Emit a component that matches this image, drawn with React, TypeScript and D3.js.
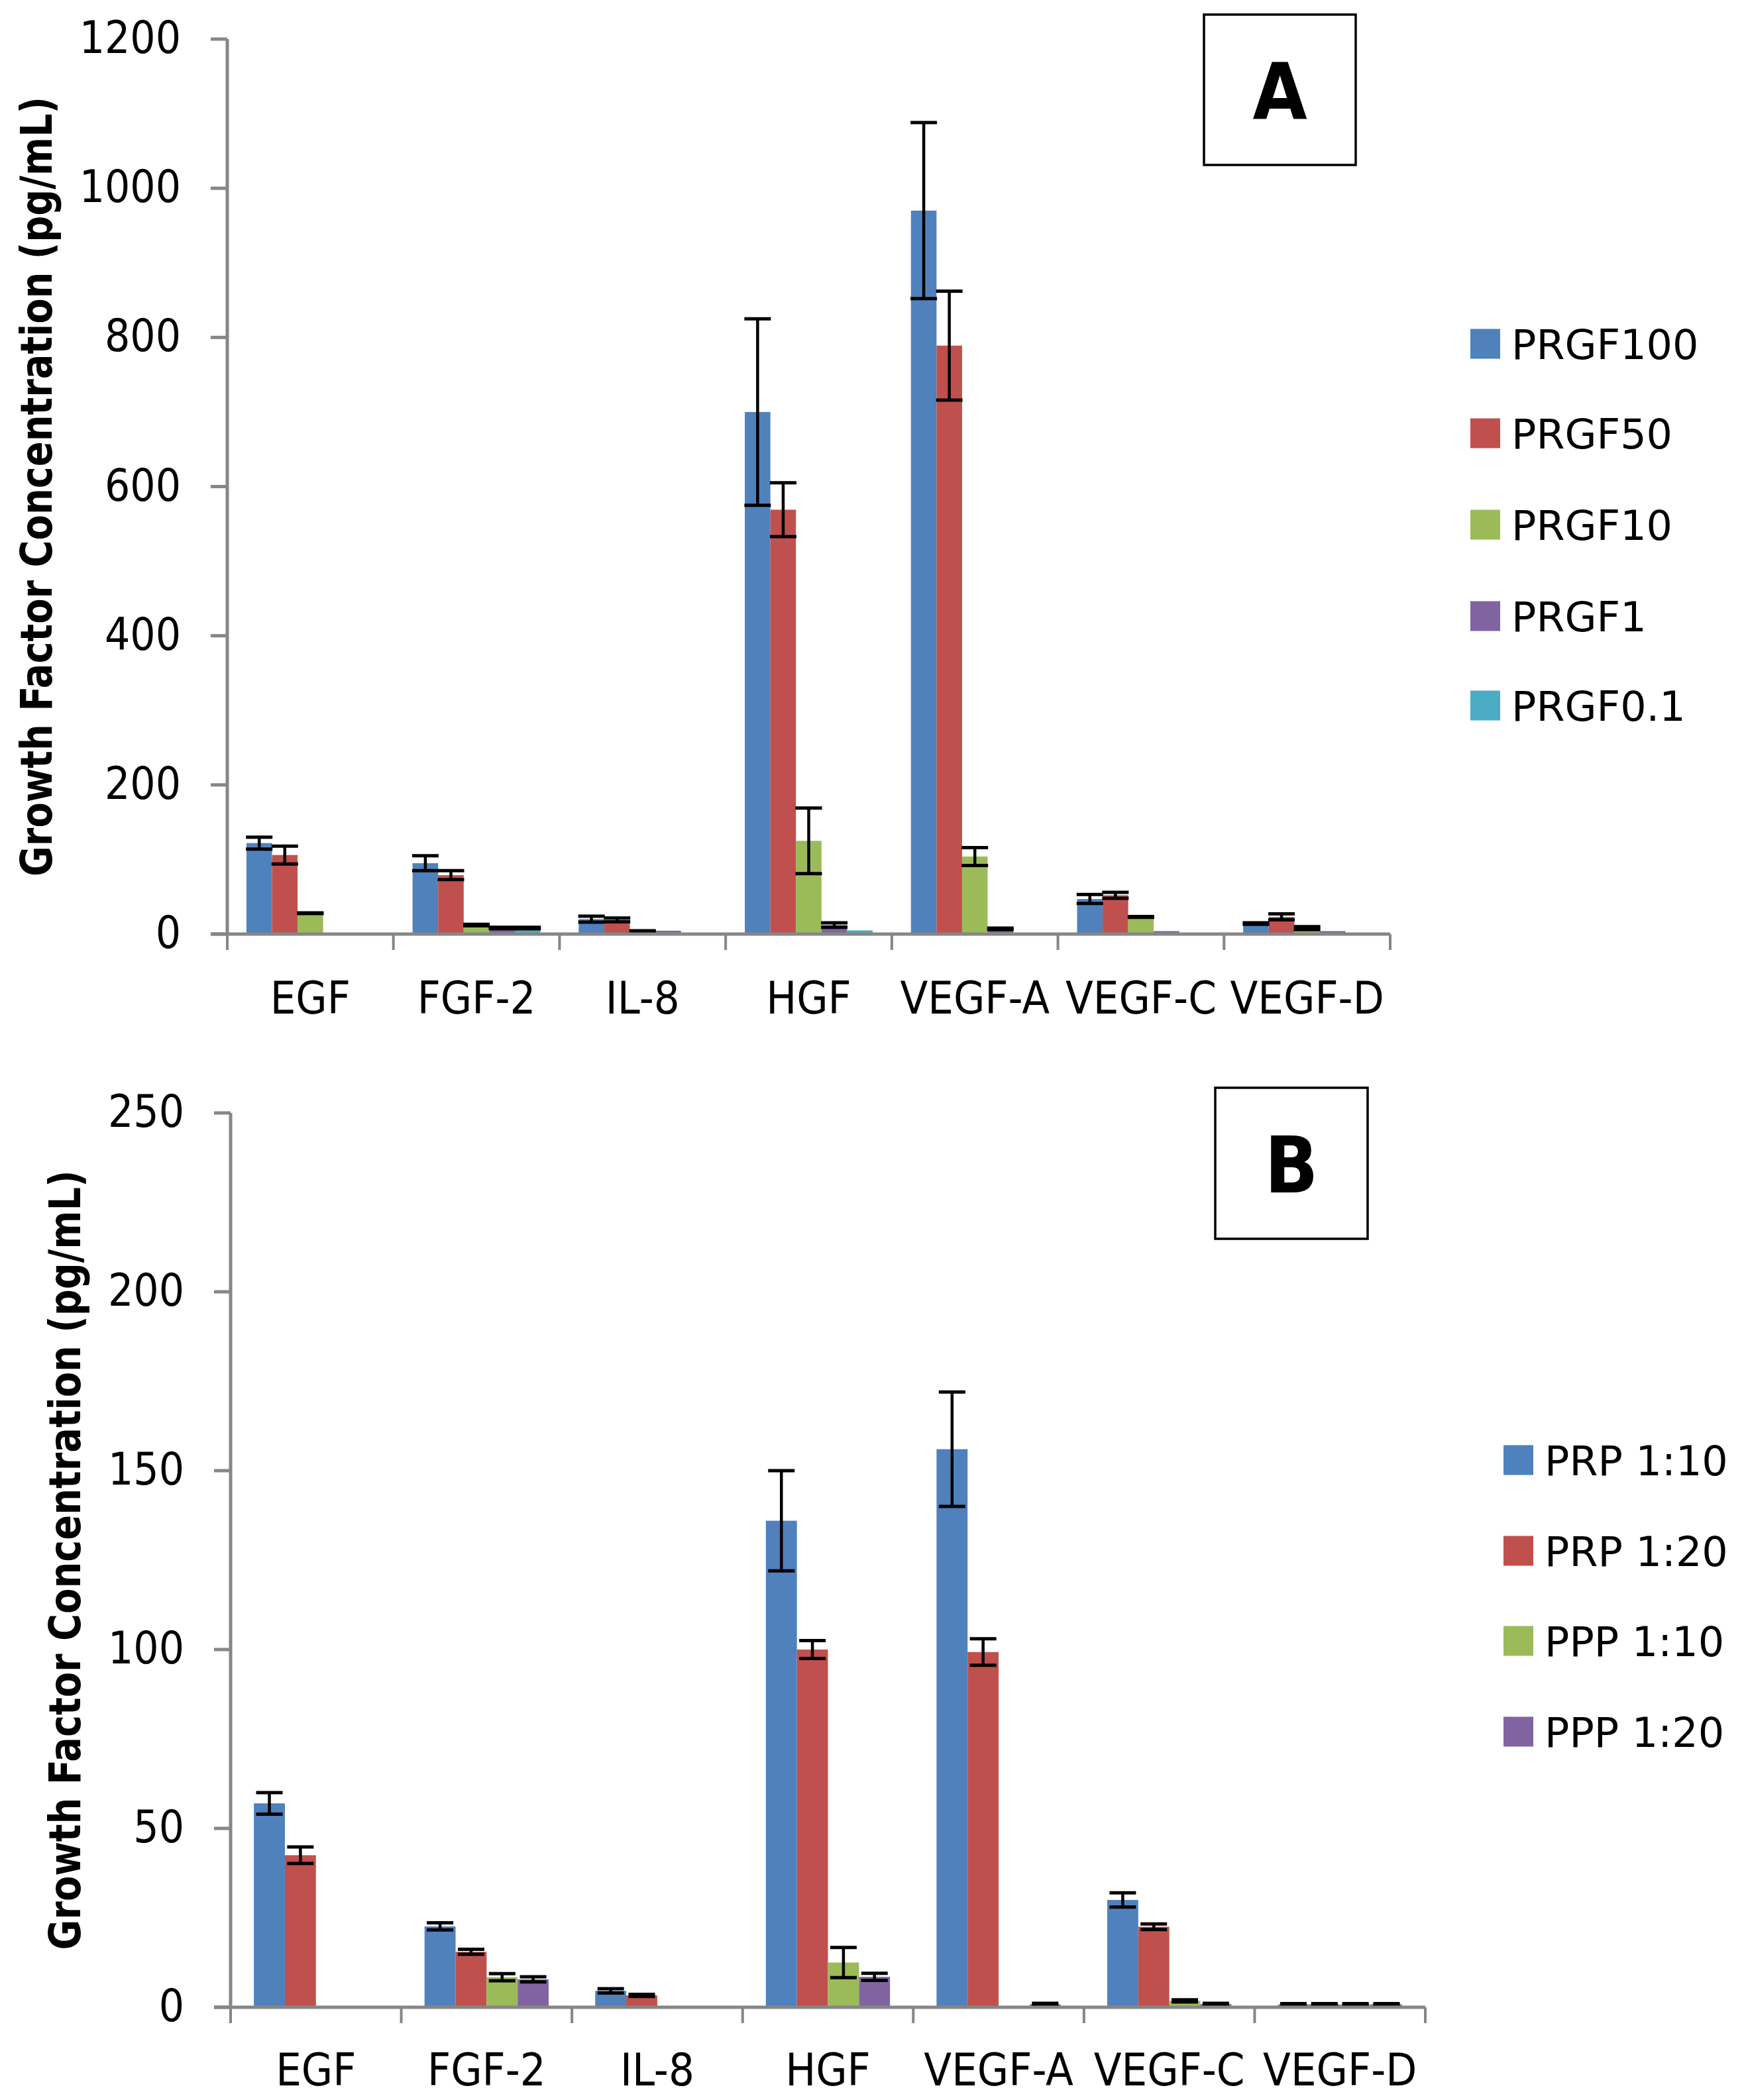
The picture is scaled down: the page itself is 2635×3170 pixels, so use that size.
import React from "react";
import * as d3 from "d3";

// categories shared by both panels
const categories = ["EGF", "FGF-2", "IL-8", "HGF", "VEGF-A", "VEGF-C", "VEGF-D"];

// Panel A - PRGF dilutions
const seriesA = ["PRGF100", "PRGF50", "PRGF10", "PRGF1", "PRGF0.1"];
const meanA = [
  [122, 95, 20, 700, 970, 47, 14],
  [106, 79, 19, 569, 789, 52, 23],
  [28, 12, 3.5, 125, 104, 23, 8],
  [0, 8, 4.5, 12, 7, 4, 4],
  [0, 8, 0, 5, 0, 0, 0],
];
const errA = [
  [8, 10, 4, 125, 118, 6, 1],
  [12, 6, 2.5, 36, 73, 4, 4],
  [0.5, 1, 1, 44, 12, 0.5, 2],
  [0, 1, 0, 3, 1, 0, 0],
  [0, 1, 0, 0, 0, 0, 0],
];
const ticksA = [0, 200, 400, 600, 800, 1000, 1200];

// Panel B - PRP / PPP dilutions
const seriesB = ["PRP 1:10", "PRP 1:20", "PPP 1:10", "PPP 1:20"];
const meanB = [
  [57, 22.6, 4.6, 136, 156, 30, 0.8],
  [42.5, 15.5, 3.3, 100, 99.3, 22.5, 0.8],
  [0, 8.4, 0, 12.5, 0, 1.8, 0.8],
  [0, 7.8, 0, 8.5, 0.8, 0.9, 0.8],
];
const errB = [
  [3, 1, 0.6, 14, 16, 2, 0.2],
  [2.3, 0.7, 0.3, 2.5, 3.7, 0.8, 0.2],
  [0, 1, 0, 4.2, 0, 0.3, 0.2],
  [0, 0.7, 0, 1, 0.3, 0.2, 0.2],
];
const ticksB = [0, 50, 100, 150, 200, 250];

const yTitle = "Growth Factor Concentration (pg/mL)";
const colors = ["#4F81BD", "#C0504D", "#9BBB59", "#8064A2", "#4BACC6"];

const condensed = "'DejaVu Sans Condensed', 'DejaVu Sans', sans-serif";
const regular = "'DejaVu Sans', sans-serif";
const axisGrey = "#868686";

function Panel({ series, means, errs, ticks, L }: any) {
  const x = d3.scaleBand().domain(categories).range([L.left, L.right]);
  const xs = d3
    .scaleBand()
    .domain(series)
    .range([0, x.bandwidth()])
    .paddingInner(0)
    .paddingOuter(0.75);
  const y = d3
    .scaleLinear()
    .domain([0, ticks[ticks.length - 1]])
    .range([L.bottom, L.top]);

  const bars: any[] = [];
  const errBars: any[] = [];
  series.forEach((s: string, si: number) => {
    categories.forEach((c, ci) => {
      const v = means[si][ci];
      const e = errs[si][ci];
      const bx = (x(c) as number) + (xs(s) as number);
      if (v > 0) {
        bars.push(
          <rect
            key={`b${si}-${ci}`}
            x={bx}
            y={y(v)}
            width={xs.bandwidth()}
            height={y(0) - y(v)}
            fill={colors[si]}
          />
        );
      }
      if (e > 0) {
        const cx = bx + xs.bandwidth() / 2;
        const hi = y(v + e);
        const lo = y(Math.max(0, v - e));
        errBars.push(
          <g key={`e${si}-${ci}`} stroke="#000">
            <line x1={cx} x2={cx} y1={hi} y2={lo} strokeWidth={4.5} />
            <line x1={cx - 20} x2={cx + 20} y1={hi} y2={hi} strokeWidth={5} />
            <line x1={cx - 20} x2={cx + 20} y1={lo} y2={lo} strokeWidth={5} />
          </g>
        );
      }
    });
  });

  const bw = x.step();

  return (
    <g>
      {bars}
      {errBars}

      {/* axes */}
      <line x1={L.left} x2={L.left} y1={L.top} y2={L.bottom} stroke={axisGrey} strokeWidth={5} />
      {ticks.map((t: number) => (
        <g key={`t${t}`}>
          <line x1={L.left - 25} x2={L.left} y1={y(t)} y2={y(t)} stroke={axisGrey} strokeWidth={5} />
          <text
            x={L.left - 70}
            y={y(t) + 21}
            textAnchor="end"
            fontFamily={condensed}
            fontSize={67}
            fill="#000"
          >
            {t}
          </text>
        </g>
      ))}
      <line x1={L.left - 25} x2={L.right} y1={L.bottom} y2={L.bottom} stroke={axisGrey} strokeWidth={5} />
      {d3.range(categories.length + 1).map((i) => (
        <line
          key={`ct${i}`}
          x1={L.left + i * bw}
          x2={L.left + i * bw}
          y1={L.bottom}
          y2={L.bottom + 24}
          stroke={axisGrey}
          strokeWidth={4}
        />
      ))}
      {categories.map((c) => (
        <text
          key={`c${c}`}
          x={(x(c) as number) + bw / 2}
          y={L.labelY}
          textAnchor="middle"
          fontFamily={condensed}
          fontSize={68}
          fill="#000"
        >
          {c}
        </text>
      ))}

      {/* y title */}
      <text
        transform={`translate(${L.titleX}, ${(L.top + L.bottom) / 2}) rotate(-90)`}
        textAnchor="middle"
        fontFamily={condensed}
        fontWeight="bold"
        fontSize={66}
        textLength={1177}
        lengthAdjust="spacingAndGlyphs"
        fill="#000"
      >
        {yTitle}
      </text>

      {/* panel letter */}
      <rect
        x={L.box[0]}
        y={L.box[1]}
        width={L.box[2]}
        height={L.box[3]}
        fill="none"
        stroke="#000"
        strokeWidth={3.5}
      />
      <text
        x={L.box[0] + L.box[2] / 2}
        y={L.letterY}
        textAnchor="middle"
        fontFamily={condensed}
        fontWeight="bold"
        fontSize={118}
        fill="#000"
      >
        {L.letter}
      </text>

      {/* legend */}
      {series.map((s: string, i: number) => (
        <g key={`l${s}`}>
          <rect x={L.legX} y={L.legRows[i] - 22.5} width={45} height={45} fill={colors[i]} />
          <text
            x={L.legX + 62}
            y={L.legRows[i] + 23}
            fontFamily={regular}
            fontSize={62}
            fill="#000"
          >
            {s}
          </text>
        </g>
      ))}
    </g>
  );
}

const layoutA = {
  left: 343,
  right: 2098,
  top: 59,
  bottom: 1410,
  labelY: 1530,
  titleX: 78,
  box: [1817, 22, 229, 227],
  letter: "A",
  letterY: 180,
  legX: 2219,
  legRows: [519, 654, 792, 930, 1065],
};

const layoutB = {
  left: 348,
  right: 2151,
  top: 1680,
  bottom: 3030,
  labelY: 3148,
  titleX: 121,
  box: [1834, 1642, 230, 228],
  letter: "B",
  letterY: 1800,
  legX: 2269,
  legRows: [2204, 2341, 2477, 2614],
};

export default function App() {
  return (
    <svg
      width={2635}
      height={3170}
      style={{ position: "absolute", left: 0, top: 0, background: "#fff" }}
    >
      <rect width={2635} height={3170} fill="#fff" />
      <Panel series={seriesA} means={meanA} errs={errA} ticks={ticksA} L={layoutA} />
      <Panel series={seriesB} means={meanB} errs={errB} ticks={ticksB} L={layoutB} />
    </svg>
  );
}
